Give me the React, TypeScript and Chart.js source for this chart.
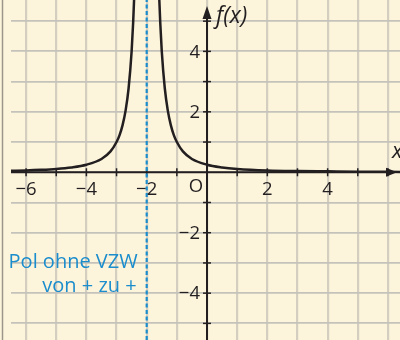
import React, { useEffect, useRef } from "react";
import { Chart, registerables } from "chart.js";

Chart.register(...registerables);

// Left branch of f(x), x < -2
const leftX = [-6.5, -6, -5.5, -5, -4.5, -4, -3.5, -3.2, -3, -2.9, -2.8, -2.7, -2.6, -2.5, -2.45, -2.42, -2.4];
const leftY = [0.05, 0.06, 0.08, 0.11, 0.16, 0.25, 0.44, 0.69, 1, 1.23, 1.56, 2.04, 2.78, 4, 4.94, 5.67, 6.25];
// Right branch of f(x), x > -2
const rightX = [-1.6, -1.58, -1.55, -1.5, -1.4, -1.3, -1.2, -1.1, -1, -0.8, -0.5, 0, 0.5, 1, 2, 3, 4, 5, 6.4];
const rightY = [6.25, 5.67, 4.94, 4, 2.78, 2.04, 1.56, 1.23, 1, 0.69, 0.44, 0.25, 0.16, 0.11, 0.06, 0.04, 0.03, 0.02, 0.01];

// Pole position
const poleX = -2;

// Grid lines and axis tick labels
const xGrid = [-6, -5, -4, -3, -2, -1, 0, 1, 2, 3, 4, 5, 6];
const yGrid = [-5, -4, -3, -2, -1, 0, 1, 2, 3, 4, 5];
const xTickLabels = [-6, -4, -2, 2, 4];
const yTickLabels = [4, 2, -2, -4];
const annotationLines = ["Pol ohne VZW", "von + zu +"];

const X_MIN = -6.5;
const X_MAX = 6.4;
const Y_MIN = -5.55;
const Y_MAX = 5.7;

const INK = "#231f20";
const BLUE = "#1b8dcd";
const BG = "#fcf5dc";
const FONT = '"Open Sans", "Noto Sans", sans-serif';

const fmt = (v: number) => (v < 0 ? "\u2212" + Math.abs(v) : String(v));

const decorPlugin = {
  id: "decor",
  beforeDraw(chart: any) {
    const { ctx, width, height } = chart;
    ctx.save();
    ctx.fillStyle = BG;
    ctx.fillRect(0, 0, width, height);
    // frame line at the left edge
    ctx.strokeStyle = "#9a968c";
    ctx.lineWidth = 1.5;
    ctx.beginPath();
    ctx.moveTo(2.5, 0);
    ctx.lineTo(2.5, height);
    ctx.stroke();
    ctx.restore();
  },
  beforeDatasetsDraw(chart: any) {
    const { ctx, chartArea, scales } = chart;
    const xs = scales.x;
    const ys = scales.y;
    const ox = xs.getPixelForValue(0);
    const oy = ys.getPixelForValue(0);
    ctx.save();
    ctx.strokeStyle = INK;
    ctx.fillStyle = INK;
    ctx.lineWidth = 2;
    // x axis
    const xTip = chartArea.right - 3;
    ctx.beginPath();
    ctx.moveTo(chartArea.left, oy);
    ctx.lineTo(xTip - 8, oy);
    ctx.stroke();
    ctx.beginPath();
    ctx.moveTo(xTip, oy);
    ctx.lineTo(xTip - 11, oy - 4.5);
    ctx.lineTo(xTip - 11, oy + 4.5);
    ctx.closePath();
    ctx.fill();
    // y axis
    const yTip = chartArea.top + 6;
    ctx.beginPath();
    ctx.moveTo(ox, chartArea.bottom);
    ctx.lineTo(ox, yTip + 8);
    ctx.stroke();
    ctx.beginPath();
    ctx.moveTo(ox, yTip);
    ctx.lineTo(ox - 4.5, yTip + 13);
    ctx.lineTo(ox + 4.5, yTip + 13);
    ctx.closePath();
    ctx.fill();
    // tick marks
    ctx.lineWidth = 1.5;
    xGrid.forEach((v) => {
      if (v === 0) return;
      const px = xs.getPixelForValue(v);
      ctx.beginPath();
      ctx.moveTo(px, oy - 4);
      ctx.lineTo(px, oy + 4);
      ctx.stroke();
    });
    yGrid.forEach((v) => {
      if (v === 0) return;
      const py = ys.getPixelForValue(v);
      ctx.beginPath();
      ctx.moveTo(ox - 4, py);
      ctx.lineTo(ox + 4, py);
      ctx.stroke();
    });
    ctx.restore();
  },
  afterDraw(chart: any) {
    const { ctx, scales } = chart;
    const xs = scales.x;
    const ys = scales.y;
    const ox = xs.getPixelForValue(0);
    const oy = ys.getPixelForValue(0);
    ctx.save();
    ctx.fillStyle = INK;
    ctx.font = `18.5px ${FONT}`;
    ctx.textBaseline = "middle";
    ctx.textAlign = "center";
    xTickLabels.forEach((v) => {
      ctx.fillText(fmt(v), xs.getPixelForValue(v), oy + 17);
    });
    ctx.fillText("O", ox - 11, oy + 14);
    ctx.textAlign = "right";
    yTickLabels.forEach((v) => {
      ctx.fillText(fmt(v), ox - 7, ys.getPixelForValue(v) + 1);
    });
    // axis names
    ctx.textAlign = "left";
    ctx.textBaseline = "alphabetic";
    ctx.font = `italic 23px ${FONT}`;
    ctx.fillText("f(x)", ox + 9, 23);
    ctx.font = `italic 22px ${FONT}`;
    ctx.fillText("x", 392, oy - 14);
    // annotation of the pole
    ctx.fillStyle = BLUE;
    ctx.font = `20px ${FONT}`;
    ctx.textAlign = "right";
    const px = xs.getPixelForValue(poleX);
    ctx.fillText(annotationLines[0], px - 9, ys.getPixelForValue(-3) + 5);
    ctx.fillText(annotationLines[1], px - 10, ys.getPixelForValue(-4) - 1);
    ctx.restore();
  },
};

export default function App() {
  const ref = useRef<HTMLCanvasElement>(null);

  useEffect(() => {
    if (!ref.current) return;
    const chart = new Chart(ref.current, {
      type: "line",
      data: {
        datasets: [
          {
            data: leftX.map((x, i) => ({ x, y: leftY[i] })),
            borderColor: INK,
            borderWidth: 2.5,
            pointRadius: 0,
            cubicInterpolationMode: "monotone",
            fill: false,
          },
          {
            data: rightX.map((x, i) => ({ x, y: rightY[i] })),
            borderColor: INK,
            borderWidth: 2.5,
            pointRadius: 0,
            cubicInterpolationMode: "monotone",
            fill: false,
          },
          {
            data: [
              { x: poleX, y: Y_MIN },
              { x: poleX, y: Y_MAX },
            ],
            borderColor: BLUE,
            borderWidth: 2.2,
            borderDash: [4, 2.5],
            pointRadius: 0,
            fill: false,
          },
        ],
      },
      options: {
        responsive: false,
        animation: false,
        events: [],
        layout: { padding: { left: 11, right: 0, top: 0, bottom: 0 } },
        plugins: { legend: { display: false }, tooltip: { enabled: false } },
        scales: {
          x: {
            type: "linear",
            min: X_MIN,
            max: X_MAX,
            afterBuildTicks: (s: any) => {
              s.ticks = xGrid.map((value) => ({ value }));
            },
            ticks: { display: false },
            border: { display: false },
            grid: { color: "#d3cebf", lineWidth: 2.2, drawTicks: false },
          },
          y: {
            type: "linear",
            min: Y_MIN,
            max: Y_MAX,
            afterBuildTicks: (s: any) => {
              s.ticks = yGrid.map((value) => ({ value }));
            },
            ticks: { display: false },
            border: { display: false },
            grid: { color: "#c4c2bb", lineWidth: 1.8, drawTicks: false },
          },
        },
      },
      plugins: [decorPlugin],
    } as any);
    return () => chart.destroy();
  }, []);

  return (
    <div style={{ position: "absolute", left: 0, top: 0, width: 400, height: 340 }}>
      <canvas ref={ref} width={400} height={340} style={{ display: "block" }} />
    </div>
  );
}
